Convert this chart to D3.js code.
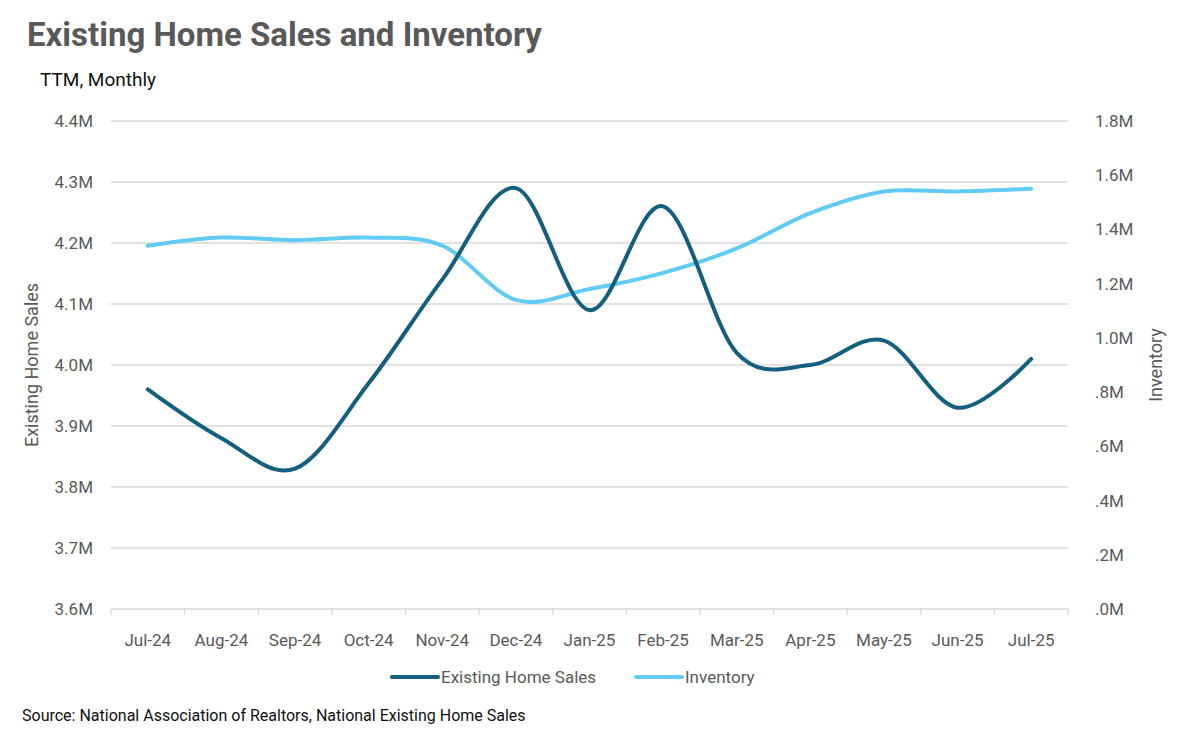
<!DOCTYPE html>
<html>
<head>
<meta charset="utf-8">
<script src="https://cdn.jsdelivr.net/npm/d3@7"></script>
<style>
  body { margin: 0; background: #fff; }
  text { font-family: "Roboto", sans-serif; }
</style>
</head>
<body>
<svg id="chart"></svg>
<script>
var svgWidth = 1184;
var svgHeight = 736;

// data
var months = ["Jul-24", "Aug-24", "Sep-24", "Oct-24", "Nov-24", "Dec-24", "Jan-25",
  "Feb-25", "Mar-25", "Apr-25", "May-25", "Jun-25", "Jul-25"];
var sales = [3.96, 3.88, 3.83, 3.97, 4.14, 4.29, 4.09, 4.26, 4.02, 4.00, 4.04, 3.93, 4.01];
var inventory = [1.34, 1.37, 1.36, 1.37, 1.34, 1.14, 1.18, 1.24, 1.33, 1.46, 1.54, 1.54, 1.55];
var leftTicks = [3.6, 3.7, 3.8, 3.9, 4.0, 4.1, 4.2, 4.3, 4.4];
var rightTicks = [0, 0.2, 0.4, 0.6, 0.8, 1.0, 1.2, 1.4, 1.6, 1.8];
var rightLabels = [".0M", ".2M", ".4M", ".6M", ".8M", "1.0M", "1.2M", "1.4M", "1.6M", "1.8M"];

var margin = { top: 121, right: 116, bottom: 127, left: 111 };
var width = svgWidth - margin.left - margin.right;
var height = svgHeight - margin.top - margin.bottom;

var darkColor = "#145f7f";
var lightColor = "#61cbf4";
var textGrey = "#595959";

var svg = d3.select("#chart")
  .attr("width", svgWidth)
  .attr("height", svgHeight);

// title block
svg.append("text")
  .attr("x", 27).attr("y", 46)
  .style("font-size", "33px").style("font-weight", "bold")
  .style("fill", textGrey)
  .text("Existing Home Sales and Inventory");

svg.append("text")
  .attr("x", 40).attr("y", 86)
  .style("font-size", "19px").style("fill", "#111")
  .text("TTM, Monthly");

svg.append("text")
  .attr("x", 22).attr("y", 721)
  .style("font-size", "16px").style("fill", "#111")
  .text("Source: National Association of Realtors, National Existing Home Sales");

var g = svg.append("g")
  .attr("transform", `translate(${margin.left}, ${margin.top})`);

var x = d3.scaleBand()
  .domain(months)
  .range([0, width]);

var yLeft = d3.scaleLinear()
  .domain([3.6, 4.4])
  .range([height, 0]);

var yRight = d3.scaleLinear()
  .domain([0, 1.8])
  .range([height, 0]);

// gridlines
g.append("g")
  .selectAll("line")
  .data(leftTicks)
  .enter()
  .append("line")
    .attr("x1", 0).attr("x2", width)
    .attr("y1", d => yLeft(d)).attr("y2", d => yLeft(d))
    .style("stroke", "#d9d9d9").style("stroke-width", 1.3);

// x axis
var xAxis = g.append("g")
  .attr("transform", "translate(0," + height + ")")
  .call(d3.axisBottom(x).tickSize(0).tickPadding(25));
xAxis.select(".domain").remove();
xAxis.selectAll("text")
  .style("font-size", "17px").style("fill", textGrey)
  .attr("font-family", null);

// tick marks between categories
g.append("g")
  .selectAll("line")
  .data(months.concat(["end"]))
  .enter()
  .append("line")
    .attr("x1", (d, i) => i * x.step()).attr("x2", (d, i) => i * x.step())
    .attr("y1", height).attr("y2", height + 6)
    .style("stroke", "#d9d9d9").style("stroke-width", 1.3);

// left axis
var leftAxis = g.append("g")
  .call(d3.axisLeft(yLeft).tickValues(leftTicks).tickSize(0).tickPadding(18)
    .tickFormat(d => d3.format(".1f")(d) + "M"));
leftAxis.select(".domain").remove();
leftAxis.selectAll("text")
  .style("font-size", "17px").style("fill", textGrey)
  .attr("font-family", null);

// right axis
var rightAxis = g.append("g")
  .attr("transform", "translate(" + width + ",0)")
  .call(d3.axisRight(yRight).tickValues(rightTicks).tickSize(0).tickPadding(27)
    .tickFormat((d, i) => rightLabels[i]));
rightAxis.select(".domain").remove();
rightAxis.selectAll("text")
  .style("font-size", "17px").style("fill", textGrey)
  .attr("font-family", null);

// axis titles
svg.append("text")
  .attr("transform", "translate(38," + (margin.top + height / 2) + ") rotate(-90)")
  .attr("text-anchor", "middle")
  .style("font-size", "18px").style("fill", textGrey)
  .text("Existing Home Sales");

svg.append("text")
  .attr("transform", "translate(1162," + (margin.top + height / 2) + ") rotate(-90)")
  .attr("text-anchor", "middle")
  .style("font-size", "18px").style("fill", textGrey)
  .text("Inventory");

// lines
var curve = d3.curveCardinal.tension(0);

var salesLine = d3.line()
  .x((d, i) => x(months[i]) + x.bandwidth() / 2)
  .y(d => yLeft(d))
  .curve(curve);

var invLine = d3.line()
  .x((d, i) => x(months[i]) + x.bandwidth() / 2)
  .y(d => yRight(d))
  .curve(curve);

g.append("path")
  .datum(inventory)
  .attr("d", invLine)
  .style("fill", "none").style("stroke", lightColor)
  .style("stroke-width", 4).style("stroke-linecap", "round");

g.append("path")
  .datum(sales)
  .attr("d", salesLine)
  .style("fill", "none").style("stroke", darkColor)
  .style("stroke-width", 4).style("stroke-linecap", "round");

// legend
var legend = svg.append("g").attr("transform", "translate(0,677)");
var legendItems = [
  { name: "Existing Home Sales", color: darkColor, x: 392 },
  { name: "Inventory", color: lightColor, x: 636 }
];
legendItems.forEach(function(item) {
  legend.append("line")
    .attr("x1", item.x).attr("x2", item.x + 46)
    .attr("y1", 0).attr("y2", 0)
    .style("stroke", item.color).style("stroke-width", 4).style("stroke-linecap", "round");
  legend.append("text")
    .attr("x", item.x + 49).attr("y", 6)
    .style("font-size", "17px").style("fill", textGrey)
    .text(item.name);
});
</script>
</body>
</html>
